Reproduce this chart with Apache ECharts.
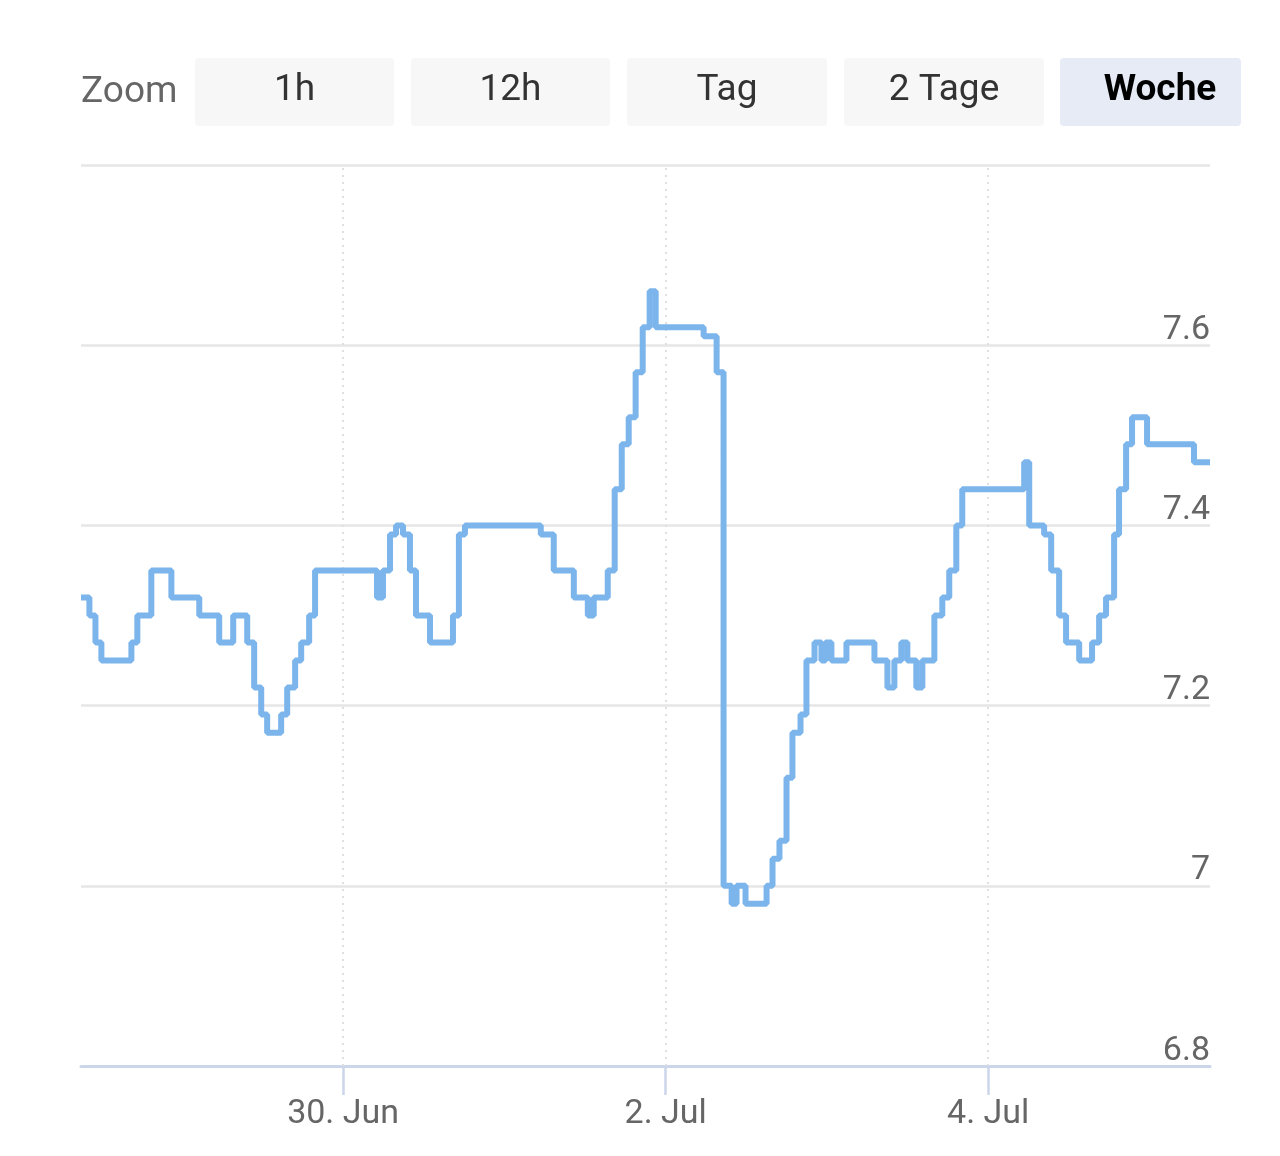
<!DOCTYPE html>
<html><head><meta charset="utf-8">
<script src="https://cdn.jsdelivr.net/npm/echarts@6/dist/echarts.min.js"></script>
<style>html,body{margin:0;padding:0;background:#fff}#c{width:1280px;height:1156px}</style>
</head><body><div id="c"></div>
<script>
// Step data (time "MM-DD hh:mm", value held until next point)
const times = [
 '06-28 09:00','06-28 10:15','06-28 11:09','06-28 12:02','06-28 16:30','06-28 17:23','06-28 19:28','06-28 22:27',
 '06-29 02:36','06-29 05:34','06-29 07:39','06-29 09:44','06-29 10:46','06-29 11:49','06-29 12:42','06-29 14:47',
 '06-29 15:41','06-29 16:52','06-29 17:46','06-29 18:57','06-29 19:50',
 '06-30 05:03','06-30 05:56','06-30 06:59','06-30 07:53','06-30 08:55','06-30 09:57','06-30 10:51','06-30 12:56',
 '06-30 16:21','06-30 17:14','06-30 18:08',
 '07-01 05:25','07-01 07:21','07-01 10:20','07-01 12:25','07-01 13:18','07-01 15:23','07-01 16:25','07-01 17:28',
 '07-01 18:30','07-01 19:32','07-01 20:35','07-01 21:37','07-01 22:31',
 '07-02 05:39','07-02 07:35','07-02 08:37','07-02 09:49','07-02 10:33','07-02 11:53','07-02 15:01','07-02 15:54',
 '07-02 16:56','07-02 17:59','07-02 18:52','07-02 20:04','07-02 20:57','07-02 22:09','07-02 23:11','07-02 23:47',
 '07-03 00:40','07-03 02:54','07-03 07:04','07-03 09:00','07-03 10:02','07-03 11:04','07-03 11:58','07-03 13:18',
 '07-03 14:12','07-03 15:59','07-03 17:10','07-03 18:12','07-03 19:15','07-03 20:08',
 '07-04 05:21','07-04 06:06','07-04 08:19','07-04 09:22','07-04 10:33','07-04 11:35','07-04 13:32','07-04 15:27',
 '07-04 16:30','07-04 17:32','07-04 18:44','07-04 19:28','07-04 20:31','07-04 21:24','07-04 23:38',
 '07-05 06:37','07-05 09:00'
];
const values = [
 7.32,7.30,7.27,7.25,7.27,7.30,7.35,7.32,
 7.30,7.27,7.30,7.27,7.22,7.19,7.17,7.19,
 7.22,7.25,7.27,7.30,7.35,
 7.32,7.35,7.39,7.40,7.39,7.35,7.30,7.27,
 7.30,7.39,7.40,
 7.39,7.35,7.32,7.30,7.32,7.35,7.44,7.49,
 7.52,7.57,7.62,7.66,7.62,
 7.61,7.57,7.00,6.98,7.00,6.98,7.00,7.03,
 7.05,7.12,7.17,7.19,7.25,7.27,7.25,7.27,
 7.25,7.27,7.25,7.22,7.25,7.27,7.25,7.22,
 7.25,7.30,7.32,7.35,7.40,7.44,
 7.47,7.40,7.39,7.35,7.30,7.27,7.25,7.27,
 7.30,7.32,7.39,7.44,7.49,7.52,7.49,
 7.47,7.47
];
const xRange = ['06-28 09:00','07-05 09:00'];
const xTickDates = ['06-30 00:00','07-02 00:00','07-04 00:00'];
const monthNames = ['Jan','Feb','Mär','Apr','Mai','Jun','Jul','Aug','Sep','Okt','Nov','Dez'];
const yMin = 6.8, yMax = 7.8, yStep = 0.2;
const zoomLabel = 'Zoom';
const rangeButtons = ['1h','12h','Tag','2 Tage','Woche'];
const selectedButton = 'Woche';

function ts(s){
  const [md,hm] = s.split(' ');
  const [m,d] = md.split('-').map(Number);
  const [h,mi] = hm.split(':').map(Number);
  return Date.UTC(2024,m-1,d,h,mi);
}
const FONT = 'Roboto, "Noto Sans", sans-serif';
const chart = echarts.init(document.getElementById('c'));

const btnX = [195,411,627,844,1060], btnW = [199,199,200,200,181], btnCx = [294.5,510.5,727,944,1160];
const graphics = [{
  type:'text', x:81, y:93,
  style:{text:zoomLabel, fill:'#666666', font:'37px '+FONT, verticalAlign:'middle'}
}];
rangeButtons.forEach((b,i)=>{
  const sel = b===selectedButton;
  graphics.push({type:'rect', left:btnX[i], top:58, shape:{width:btnW[i], height:68, r:4},
    style:{fill: sel ? '#e6ebf5' : '#f7f7f7'}});
  graphics.push({type:'text', x:btnCx[i], y:91,
    style:{text:b, fill: sel ? '#000000' : '#333333', font:(sel?'bold ':'')+'37px '+FONT,
      align:'center', verticalAlign:'middle'}});
});

chart.setOption({
  animation:false,
  backgroundColor:'#ffffff',
  grid:{left:81, right:70, top:165, bottom:90},
  graphic: graphics,
  xAxis:{
    type:'value', min:ts(xRange[0]), max:ts(xRange[1]),
    axisLine:{show:true, lineStyle:{color:'#ccd6eb', width:3}},
    axisTick:{show:true, customValues:xTickDates.map(ts), length:29, lineStyle:{color:'#ccd6eb', width:2.5}},
    axisLabel:{customValues:xTickDates.map(ts), color:'#666666', fontSize:34, fontFamily:FONT, margin:31,
      formatter:v=>{const d=new Date(v); return d.getUTCDate()+'. '+monthNames[d.getUTCMonth()];}},
    splitLine:{show:false}
  },
  yAxis:{
    type:'value', position:'right', min:yMin, max:yMax, interval:yStep,
    axisLine:{show:false}, axisTick:{show:false},
    axisLabel:{inside:true, margin:0, showMaxLabel:false, color:'#666666', fontSize:34, fontFamily:FONT,
      verticalAlign:'bottom', lineHeight:30,
      formatter:v=>String(+v.toFixed(1))},
    splitLine:{lineStyle:{color:'#e6e6e6', width:2.5}}
  },
  series:[{
    type:'line', step:'end', showSymbol:false, z:3,
    data: times.map((s,i)=>[ts(s), values[i]]),
    lineStyle:{color:'#7cb5ec', width:6},
    markLine:{silent:true, symbol:'none', z:1, label:{show:false},
      lineStyle:{color:'#e0e0e0', type:[2,5], width:2},
      data: xTickDates.map(s=>({xAxis:ts(s)}))}
  }]
});
</script></body></html>
